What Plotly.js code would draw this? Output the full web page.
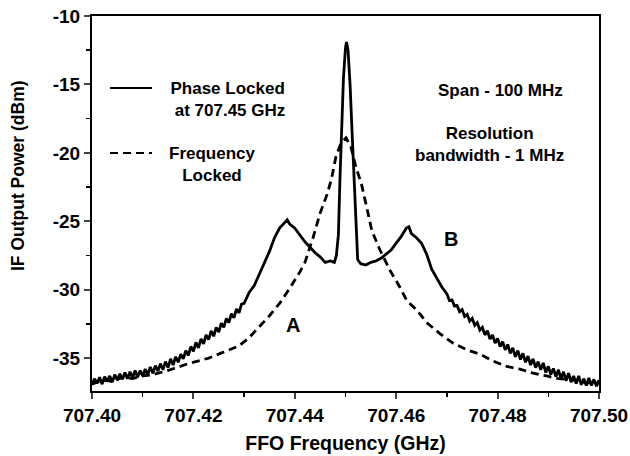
<!DOCTYPE html>
<html><head><meta charset="utf-8">
<script src="https://cdn.plot.ly/plotly-3.0.1.min.js"></script>
<style>html,body{margin:0;padding:0;background:#fff}#chart{width:630px;height:456px}</style>
</head><body><div id="chart"></div>
<script>
// Phase locked (solid) spectrum
const phaseFreq = [707.4000,707.4005,707.4010,707.4015,707.4020,707.4025,707.4030,707.4035,707.4040,707.4045,707.4050,707.4055,707.4060,707.4065,707.4070,707.4075,707.4080,707.4085,707.4090,707.4095,707.4100,707.4105,707.4110,707.4115,707.4120,707.4125,707.4130,707.4135,707.4140,707.4145,707.4150,707.4155,707.4160,707.4165,707.4170,707.4175,707.4180,707.4185,707.4190,707.4195,707.4200,707.4205,707.4210,707.4215,707.4220,707.4225,707.4230,707.4235,707.4240,707.4245,707.4250,707.4255,707.4260,707.4265,707.4270,707.4275,707.4280,707.4285,707.4290,707.4295,707.4300,
  707.431,707.432,707.433,707.434,707.435,707.436,707.437,707.438,707.4385,707.439,707.440,707.441,707.442,707.443,707.444,707.445,707.446,707.447,707.4478,707.4482,707.4486,707.4489,707.4492,707.4496,707.4500,707.4502,707.4505,707.4509,707.4513,707.4517,707.4520,707.4524,707.453,707.454,707.455,707.456,707.457,707.458,707.459,707.460,707.461,707.462,707.4625,707.463,707.464,707.465,707.466,707.467,707.468,707.469,
  707.4700,707.4705,707.4710,707.4715,707.4720,707.4725,707.4730,707.4735,707.4740,707.4745,707.4750,707.4755,707.4760,707.4765,707.4770,707.4775,707.4780,707.4785,707.4790,707.4795,707.4800,707.4805,707.4810,707.4815,707.4820,707.4825,707.4830,707.4835,707.4840,707.4845,707.4850,707.4855,707.4860,707.4865,707.4870,707.4875,707.4880,707.4885,707.4890,707.4895,707.4900,707.4905,707.4910,707.4915,707.4920,707.4925,707.4930,707.4935,707.4940,707.4945,707.4950,707.4955,707.4960,707.4965,707.4970,707.4975,707.4980,707.4985,707.4990,707.4995,707.5000];
const phasePower = [-36.95,-36.5,-36.85,-36.4,-36.9,-36.35,-36.7,-36.3,-36.75,-36.2,-36.6,-36.15,-36.55,-36.05,-36.5,-36.0,-36.45,-35.9,-36.4,-35.9,-36.3,-35.8,-36.2,-35.65,-36.1,-35.55,-35.95,-35.4,-35.85,-35.25,-35.7,-35.05,-35.5,-34.9,-35.3,-34.7,-35.05,-34.45,-34.8,-34.15,-34.5,-33.85,-34.25,-33.6,-33.95,-33.3,-33.65,-33.0,-33.4,-32.75,-33.1,-32.45,-32.75,-32.1,-32.4,-31.75,-32.05,-31.4,-31.7,-31.05,-31.0,
  -30.2,-29.7,-28.9,-28.1,-27.2,-26.2,-25.5,-25.1,-24.9,-25.2,-25.5,-26.0,-26.5,-26.9,-27.3,-27.6,-28.0,-27.9,-28.0,-27.5,-26.0,-22.0,-18.0,-14.5,-12.3,-11.9,-12.5,-15.0,-18.5,-22.0,-25.5,-27.8,-28.1,-28.2,-28.0,-27.9,-27.7,-27.4,-27.1,-26.6,-26.1,-25.5,-25.4,-25.9,-26.2,-26.6,-27.4,-28.5,-29.2,-29.8,
  -30.3,-30.8,-30.75,-31.2,-31.15,-31.6,-31.45,-31.95,-31.8,-32.3,-32.1,-32.6,-32.4,-32.95,-32.75,-33.3,-33.0,-33.6,-33.3,-33.9,-33.55,-34.15,-33.8,-34.4,-34.0,-34.65,-34.25,-34.9,-34.45,-35.1,-34.65,-35.3,-34.85,-35.5,-35.05,-35.7,-35.25,-35.85,-35.35,-36.05,-35.6,-36.2,-35.75,-36.35,-35.85,-36.5,-36.0,-36.65,-36.1,-36.75,-36.3,-36.85,-36.3,-36.95,-36.5,-37.0,-36.45,-37.0,-36.55,-37.05,-36.6];
// Frequency locked (dashed) spectrum
const freqFreq = [707.400,707.402,707.404,707.406,707.408,707.410,707.412,707.415,707.419,707.423,707.427,707.429,707.431,707.433,707.435,707.437,707.439,707.441,707.442,707.4436,707.445,707.4464,707.4473,707.4481,707.4491,707.4501,707.4511,707.4521,707.4531,707.4542,707.4552,707.4568,707.4588,707.4607,707.4621,707.4641,707.4660,707.4686,707.4712,707.4740,707.4765,707.4790,707.4818,707.4844,707.4870,707.4897,707.4920,707.4950,707.4975,707.5000];
const freqPower = [-36.9,-36.6,-36.7,-36.4,-36.5,-36.3,-36.2,-35.9,-35.4,-35.0,-34.4,-34.1,-33.5,-32.7,-31.9,-31.0,-29.9,-28.7,-28.0,-26.2,-24.4,-23.0,-21.8,-20.3,-19.3,-18.9,-19.6,-21.1,-22.2,-24.0,-25.7,-27.1,-28.6,-29.8,-30.8,-31.5,-32.4,-33.2,-33.9,-34.4,-34.7,-35.2,-35.6,-35.8,-36.1,-36.3,-36.5,-36.6,-36.8,-36.8];
// Tick labels
const xTickVals = [707.40,707.42,707.44,707.46,707.48,707.50];
const xTickText = ["707.40","707.42","707.44","707.46","707.48","707.50"];
const yTickVals = [-35,-30,-25,-20,-15,-10];
const yTickText = ["-35","-30","-25","-20","-15","-10"];

const F = "Arial, 'Liberation Sans', sans-serif";
const traces = [
  {x: phaseFreq, y: phasePower, type:'scatter', mode:'lines', name:'Phase Locked at 707.45 GHz',
   line:{color:'#000', width:2.8}},
  {x: freqFreq, y: freqPower, type:'scatter', mode:'lines', name:'Frequency Locked',
   line:{color:'#000', width:2.8, dash:'8px,5px'}}
];
const ann = (x,y,t,opt={}) => Object.assign({xref:'paper',yref:'paper',x:x,y:y,text:t,showarrow:false,
  font:{family:F,size:17,color:'#000'},xanchor:'center',yanchor:'middle',align:'center'},opt);
const layout = {
  width:630, height:456, margin:{l:92,r:31,t:16,b:65},
  paper_bgcolor:'#fff', plot_bgcolor:'#fff', showlegend:false,
  font:{family:F, color:'#000'},
  xaxis:{range:[707.40,707.50], tickvals:xTickVals, ticktext:xTickText, ticks:'outside', ticklen:6, tickwidth:2,
    minor:{dtick:0.01, tick0:707.40, ticks:'outside', ticklen:4, tickwidth:1.5, tickcolor:'#000'},
    showline:true, linewidth:2, linecolor:'#000', mirror:true, showgrid:false, zeroline:false,
    tickfont:{family:F, size:19, color:'#000', weight:'bold'},
    title:{text:'<b>FFO Frequency (GHz)</b>', font:{family:F,size:19.5,color:'#000'}, standoff:12}},
  yaxis:{range:[-37.4,-10], tickvals:yTickVals, ticktext:yTickText, ticks:'outside', ticklen:6, tickwidth:2,
    minor:{dtick:2.5, tick0:-10, ticks:'outside', ticklen:4, tickwidth:1.5, tickcolor:'#000'},
    showline:true, linewidth:2, linecolor:'#000', mirror:true, showgrid:false, zeroline:false,
    tickfont:{family:F, size:19, color:'#000', weight:'bold'}},
  shapes:[
    {type:'line', xref:'paper', yref:'paper', x0:(110-92)/507, x1:(152-92)/507, y0:(391-88)/375, y1:(391-88)/375, line:{color:'#000',width:2}},
    {type:'line', xref:'paper', yref:'paper', x0:(110-92)/507, x1:(152-92)/507, y0:(391-153)/375, y1:(391-153)/375, line:{color:'#000',width:2,dash:'8px,5px'}}
  ],
  annotations:[
    ann((18-92)/507,(391-176)/375,'<b>IF Output Power (dBm)</b>',{textangle:-90,font:{family:F,size:17.5,color:'#000'}}),
    ann((227-92)/507,(391-99.5)/375,'<b>Phase Locked</b><br><b> at 707.45 GHz</b>'),
    ann((212-92)/507,(391-164.5)/375,'<b>Frequency</b><br><b>Locked</b>'),
    ann((500-92)/507,(391-90)/375,'<b>Span - 100 MHz</b>'),
    ann((489-92)/507,(391-144.5)/375,'<b>Resolution</b><br><b>bandwidth - 1 MHz</b>'),
    ann((293-92)/507,(391-325)/375,'<b>A</b>',{font:{family:F,size:20,color:'#000'}}),
    ann((451-92)/507,(391-239)/375,'<b>B</b>',{font:{family:F,size:20,color:'#000'}})
  ]
};
Plotly.newPlot('chart', traces, layout, {staticPlot:true, displayModeBar:false});
</script></body></html>
